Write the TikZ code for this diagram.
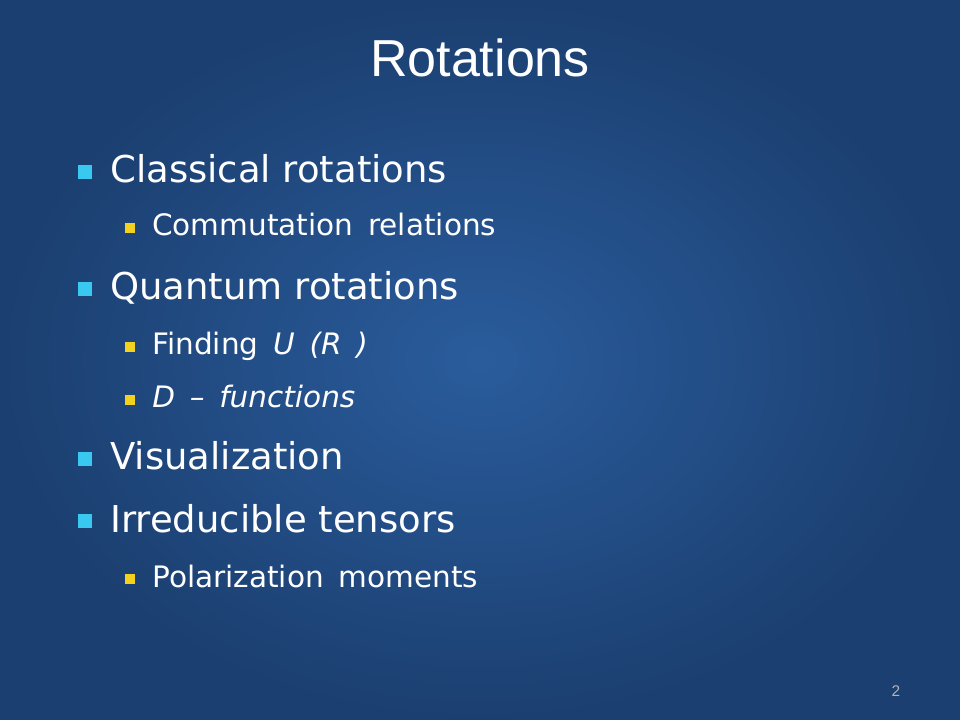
\documentclass[tikz,border=0pt]{standalone}
\usepackage{fontspec}
\setmainfont{Liberation Sans}
\newfontfamily\itemfont{DejaVu Sans}
\newcommand{\subitemfont}{\itemfont\fontsize{21}{24}\selectfont\spaceskip=0.5em\relax}
\definecolor{slidebg}{HTML}{2A5C9C}
\definecolor{slideedge}{HTML}{1B3F70}
\definecolor{bulletone}{HTML}{38C8F0}
\definecolor{bullettwo}{HTML}{F2D21E}
\tikzset{
  itemone/.style={anchor=base west,text=white,inner sep=0pt,font=\itemfont\fontsize{26.3}{30}\selectfont},
  itemtwo/.style={anchor=base west,text=white,inner sep=0pt,font=\subitemfont},
  markone/.style={fill=bulletone,minimum size=0.35cm,inner sep=0pt},
  marktwo/.style={fill=bullettwo,minimum size=0.25cm,inner sep=0pt}
}
\begin{document}
\begin{tikzpicture}[x=0.025cm,y=-0.025cm]
  \shade[inner color=slidebg,outer color=slideedge] (0,0) rectangle (960,720);
  \useasboundingbox (0,0) rectangle (960,720);
  \node (title) [anchor=base,text=white,inner sep=0pt,font=\fontsize{37}{40}\selectfont] at (480,77) {Rotations};
  % first level
  \node (b1) [markone] at (85,172) {}; \node (classical) [itemone] at (110,183) {Classical rotations};
  \node (b3) [markone] at (85,289) {}; \node (quantum) [itemone] at (110,300) {Quantum rotations};
  \node (b6) [markone] at (85,459) {}; \node (visual) [itemone] at (110,470) {Visualization};
  \node (b7) [markone] at (85,521) {}; \node (tensors) [itemone] at (110,532) {Irreducible tensors};
  % second level
  \node (b2) [marktwo] at (130,228) {}; \node (commut) [itemtwo] at (152,236) {Commutation relations};
  \node (b4) [marktwo] at (130,347) {}; \node (finding) [itemtwo] at (152,355) {Finding \textit{U (R )}};
  \node (b5) [marktwo] at (130,400) {}; \node (dfunc) [itemtwo] at (152,408) {\textit{D – functions}};
  \node (b8) [marktwo] at (130,579) {}; \node (polar) [itemtwo] at (152,587) {Polarization moments};
  \node (page) [anchor=base,text=black!30,inner sep=0pt,font=\fontsize{11}{12}\selectfont] at (896,696) {2};
\end{tikzpicture}
\end{document}
